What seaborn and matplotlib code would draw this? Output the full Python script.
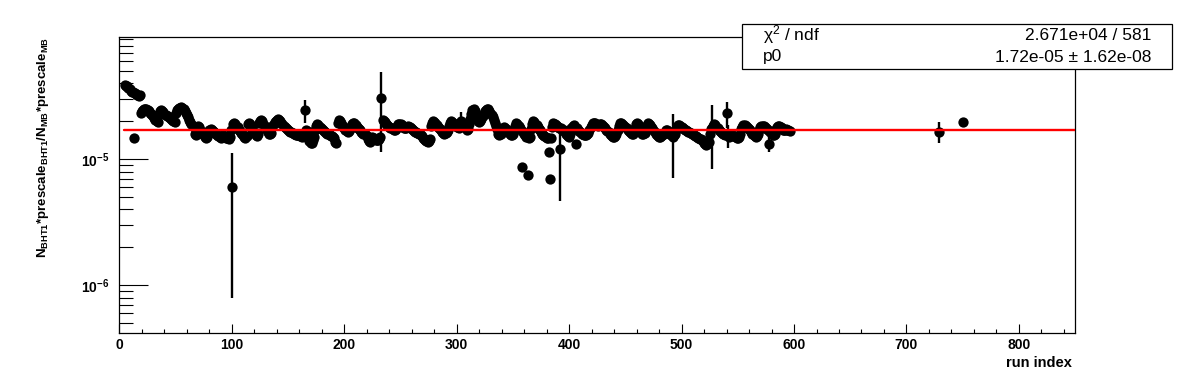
import numpy as np
import pandas as pd
import matplotlib
matplotlib.use("Agg")
import matplotlib.pyplot as plt
import seaborn as sns
from matplotlib.patches import Rectangle
from matplotlib.ticker import MultipleLocator, LogLocator, NullFormatter

# trigger ratio per run, in units of 1e-5, runs 5..596 in order
first_run = 5
ratio = [
    3.90, 3.85, 3.80, 3.70, 3.60, 3.50, 3.45, 3.40, 1.48, 3.35,
    3.30, 3.25, 3.20, 3.25, 2.35, 2.40, 2.45, 2.50, 2.52, 2.50,
    2.48, 2.42, 2.35, 2.30, 2.25, 2.20, 2.12, 2.06, 2.02, 1.98,
    2.30, 2.40, 2.45, 2.42, 2.36, 2.30, 2.25, 2.22, 2.20, 2.15,
    2.12, 2.08, 2.05, 2.02, 1.98, 2.35, 2.45, 2.50, 2.55, 2.57,
    2.58, 2.55, 2.50, 2.42, 2.35, 2.25, 2.15, 2.05, 1.98, 1.90,
    1.85, 1.80, 1.58, 1.55, 1.75, 1.85, 1.80, 1.72, 1.65, 1.60,
    1.55, 1.50, 1.47, 1.50, 1.60, 1.72, 1.75, 1.72, 1.68, 1.65,
    1.62, 1.58, 1.55, 1.52, 1.50, 1.48, 1.50, 1.55, 1.52, 1.50,
    1.48, 1.47, 1.45, 1.50, 1.70, 0.60, 1.90, 1.93, 1.90, 1.85,
    1.80, 1.72, 1.68, 1.62, 1.58, 1.55, 1.50, 1.48, 1.52, 1.90,
    1.95, 1.90, 1.82, 1.75, 1.68, 1.62, 1.56, 1.52, 1.58, 1.95,
    2.02, 2.05, 2.00, 1.92, 1.85, 1.78, 1.70, 1.65, 1.60, 1.58,
    1.62, 1.85, 1.92, 1.98, 2.02, 2.05, 2.08, 2.05, 2.00, 1.95,
    1.90, 1.85, 1.80, 1.78, 1.74, 1.70, 1.68, 1.66, 1.64, 1.62,
    1.60, 1.58, 1.57, 1.55, 1.56, 1.55, 1.52, 1.50, 1.52, 1.55,
    2.46, 1.72, 1.68, 1.55, 1.40, 1.35, 1.34, 1.42, 1.50, 1.70,
    1.85, 1.90, 1.87, 1.82, 1.78, 1.74, 1.70, 1.68, 1.65, 1.62,
    1.60, 1.58, 1.55, 1.53, 1.52, 1.50, 1.48, 1.38, 1.34, 1.95,
    2.05, 2.02, 1.95, 1.88, 1.82, 1.76, 1.72, 1.68, 1.66, 1.68,
    1.75, 1.85, 1.92, 1.95, 1.93, 1.88, 1.82, 1.78, 1.74, 1.70,
    1.66, 1.62, 1.60, 1.58, 1.56, 1.52, 1.45, 1.40, 1.38, 1.45,
    1.50, 1.48, 1.45, 1.42, 1.43, 1.42, 1.45, 1.50, 3.05, 2.05,
    2.02, 1.98, 1.92, 1.88, 1.84, 1.80, 1.78, 1.76, 1.74, 1.72,
    1.70, 1.75, 1.85, 1.90, 1.92, 1.90, 1.86, 1.82, 1.78, 1.76,
    1.78, 1.82, 1.84, 1.82, 1.78, 1.74, 1.70, 1.68, 1.66, 1.64,
    1.62, 1.60, 1.58, 1.56, 1.52, 1.48, 1.44, 1.42, 1.40, 1.38,
    1.40, 1.45, 1.85, 1.95, 2.00, 1.98, 1.94, 1.88, 1.82, 1.78,
    1.74, 1.70, 1.66, 1.62, 1.60, 1.62, 1.65, 1.70, 1.85, 1.95,
    2.00, 1.98, 1.94, 1.90, 1.85, 1.82, 1.80, 1.78, 1.90, 2.00,
    1.95, 1.88, 1.82, 1.76, 1.72, 1.75, 1.90, 2.10, 2.30, 2.45,
    2.50, 2.40, 2.30, 2.15, 2.02, 1.98, 2.00, 2.10, 2.20, 2.30,
    2.40, 2.48, 2.52, 2.50, 2.42, 2.35, 2.25, 2.15, 2.05, 1.95,
    1.85, 1.75, 1.60, 1.56, 1.60, 1.70, 1.78, 1.80, 1.78, 1.74,
    1.70, 1.65, 1.60, 1.56, 1.55, 1.58, 1.70, 1.85, 1.93, 1.90,
    1.85, 1.78, 1.72, 0.87, 1.65, 1.60, 1.55, 1.50, 0.75, 1.47,
    1.50, 1.75, 1.90, 2.02, 1.98, 1.92, 1.86, 1.80, 1.75, 1.70,
    1.65, 1.60, 1.56, 1.52, 1.50, 1.48, 1.47, 1.15, 0.70, 1.47,
    1.80, 1.93, 1.92, 1.88, 1.84, 1.80, 1.78, 1.21, 1.76, 1.72,
    1.70, 1.66, 1.60, 1.55, 1.52, 1.50, 1.60, 1.78, 1.85, 1.87,
    1.82, 1.32, 1.76, 1.72, 1.68, 1.64, 1.60, 1.58, 1.56, 1.55,
    1.56, 1.58, 1.62, 1.70, 1.80, 1.88, 1.93, 1.95, 1.93, 1.90,
    1.88, 1.85, 1.90, 1.92, 1.88, 1.84, 1.80, 1.76, 1.72, 1.68,
    1.64, 1.60, 1.56, 1.53, 1.51, 1.50, 1.52, 1.58, 1.70, 1.85,
    1.93, 1.95, 1.92, 1.88, 1.84, 1.80, 1.76, 1.72, 1.68, 1.65,
    1.62, 1.60, 1.58, 1.75, 1.90, 1.95, 1.90, 1.82, 1.72, 1.65,
    1.60, 1.58, 1.62, 1.75, 1.88, 1.93, 1.92, 1.88, 1.82, 1.76,
    1.70, 1.65, 1.60, 1.56, 1.53, 1.51, 1.50, 1.52, 1.56, 1.60,
    1.65, 1.70, 1.72, 1.68, 1.64, 1.60, 1.56, 1.51, 1.55, 1.60,
    1.70, 1.80, 1.86, 1.88, 1.85, 1.82, 1.78, 1.75, 1.72, 1.70,
    1.68, 1.66, 1.64, 1.62, 1.60, 1.58, 1.56, 1.54, 1.52, 1.50,
    1.48, 1.46, 1.44, 1.42, 1.40, 1.36, 1.33, 1.30, 1.32, 1.38,
    1.60, 1.75, 1.77, 1.85, 1.90, 1.86, 1.80, 1.76, 1.72, 1.68,
    1.65, 1.62, 1.60, 1.58, 1.55, 2.32, 1.55, 1.50, 1.56, 1.58,
    1.56, 1.54, 1.52, 1.50, 1.48, 1.47, 1.50, 1.60, 1.75, 1.82,
    1.87, 1.88, 1.85, 1.82, 1.78, 1.74, 1.70, 1.65, 1.60, 1.56,
    1.52, 1.50, 1.52, 1.60, 1.72, 1.80, 1.84, 1.85, 1.83, 1.80,
    1.78, 1.74, 1.70, 1.33, 1.65, 1.60, 1.55, 1.55, 1.60, 1.75,
    1.82, 1.85, 1.84, 1.80, 1.76, 1.72, 1.70, 1.72, 1.74, 1.72,
    1.70, 1.68,
]
# two isolated runs far to the right
far_runs = [729, 750]
far_ratio = [1.66, 1.97]

# runs whose error bar sticks out of the marker (units of 1e-5)
err_runs = [100, 165, 233, 304, 392, 492, 527, 540, 541, 578, 729]
err_vals = [0.52, 0.50, 1.90, 0.38, 0.74, 0.80, 0.93, 0.55, 0.33, 0.18, 0.32]

p0 = 1.72e-5
fit_range = [4, 850]
x_ticks = [0, 100, 200, 300, 400, 500, 600, 700, 800]
stat_lines = [("χ$^{2}$ / ndf", "2.671e+04 / 581"),
              ("p0", "1.72e-05 ± 1.62e-08")]

sns.set_style("ticks")
plt.rcParams["font.family"] = ["Liberation Sans", "DejaVu Sans"]
plt.rcParams["mathtext.fontset"] = "custom"
plt.rcParams["mathtext.rm"] = "Liberation Sans"
plt.rcParams["mathtext.it"] = "Liberation Sans:italic"
plt.rcParams["mathtext.bf"] = "Liberation Sans:bold"
for key in ["text.color", "axes.labelcolor", "xtick.color", "ytick.color", "axes.edgecolor"]:
    plt.rcParams[key] = "black"

runs = list(range(first_run, first_run + len(ratio))) + far_runs
df = pd.DataFrame({"run": runs, "ratio": np.array(ratio + far_ratio) * 1e-5})
err_df = df[df["run"].isin(err_runs)].copy()
err_df["err"] = err_df["run"].map(dict(zip(err_runs, err_vals))) * 1e-5

fig = plt.figure(figsize=(11.96, 3.72), dpi=100)
ax = fig.add_axes([0.0999, 0.104, 0.799, 0.7957])

ax.errorbar(err_df["run"], err_df["ratio"], yerr=err_df["err"], fmt="none",
            ecolor="black", elinewidth=1.7, capsize=0, zorder=2)
sns.scatterplot(data=df, x="run", y="ratio", color="black", s=55,
                linewidth=0, ax=ax, zorder=3, legend=False)
sns.lineplot(x=fit_range, y=[p0, p0], color="red", linewidth=1.7, ax=ax, zorder=4)

ax.set_yscale("log")
ax.set_xlim(0, 850)
ax.set_ylim(4.16e-7, 9.3e-5)

ax.set_xticks(x_ticks)
ax.set_xticklabels([str(t) for t in x_ticks], fontweight="bold", fontsize=10)
ax.xaxis.set_minor_locator(MultipleLocator(20))
ax.set_yticks([1e-6, 1e-5])
ax.set_yticklabels([r"$\mathbf{10^{-6}}$", r"$\mathbf{10^{-5}}$"], fontsize=10)
ax.yaxis.set_minor_locator(LogLocator(base=10, subs=np.arange(2, 10)))
ax.yaxis.set_minor_formatter(NullFormatter())

ax.tick_params(axis="both", which="both", direction="in", top=False, right=False,
               width=0.8, color="black")
ax.tick_params(axis="x", which="major", length=6.5, pad=3.5)
ax.tick_params(axis="x", which="minor", length=3.2)
ax.tick_params(axis="y", which="major", length=20.8, pad=7)
ax.tick_params(axis="y", which="minor", length=10)
for sp in ax.spines.values():
    sp.set_linewidth(0.9)
    sp.set_color("black")

ax.set_xlabel("run index", fontweight="bold", fontsize=10.5, loc="right")
ax.xaxis.set_label_coords(0.9963, -0.078)
ax.set_ylabel(r"$\mathbf{N_{BHT1}{*}prescale_{BHT1}/N_{MB}{*}prescale_{MB}}$",
              fontsize=9.5, loc="top")
ax.yaxis.label.set_va("center")
ax.yaxis.set_label_coords(-0.080, 1.0)

# fit statistics box
W, H = 1196.0, 372.0
box = Rectangle((742 / W, 1 - 69 / H), (1172 - 742) / W, 45 / H,
                transform=fig.transFigure, facecolor="white", edgecolor="black",
                linewidth=0.9, zorder=10)
fig.add_artist(box)
for i, (left, right) in enumerate(stat_lines):
    yy = 1 - (35 + 22 * i) / H
    fig.text(763 / W, yy, left, ha="left", va="center", fontsize=12.5, zorder=11)
    fig.text(1151 / W, yy, right, ha="right", va="center", fontsize=12.5, zorder=11)

fig.savefig("out.png", dpi=100, facecolor="white")
